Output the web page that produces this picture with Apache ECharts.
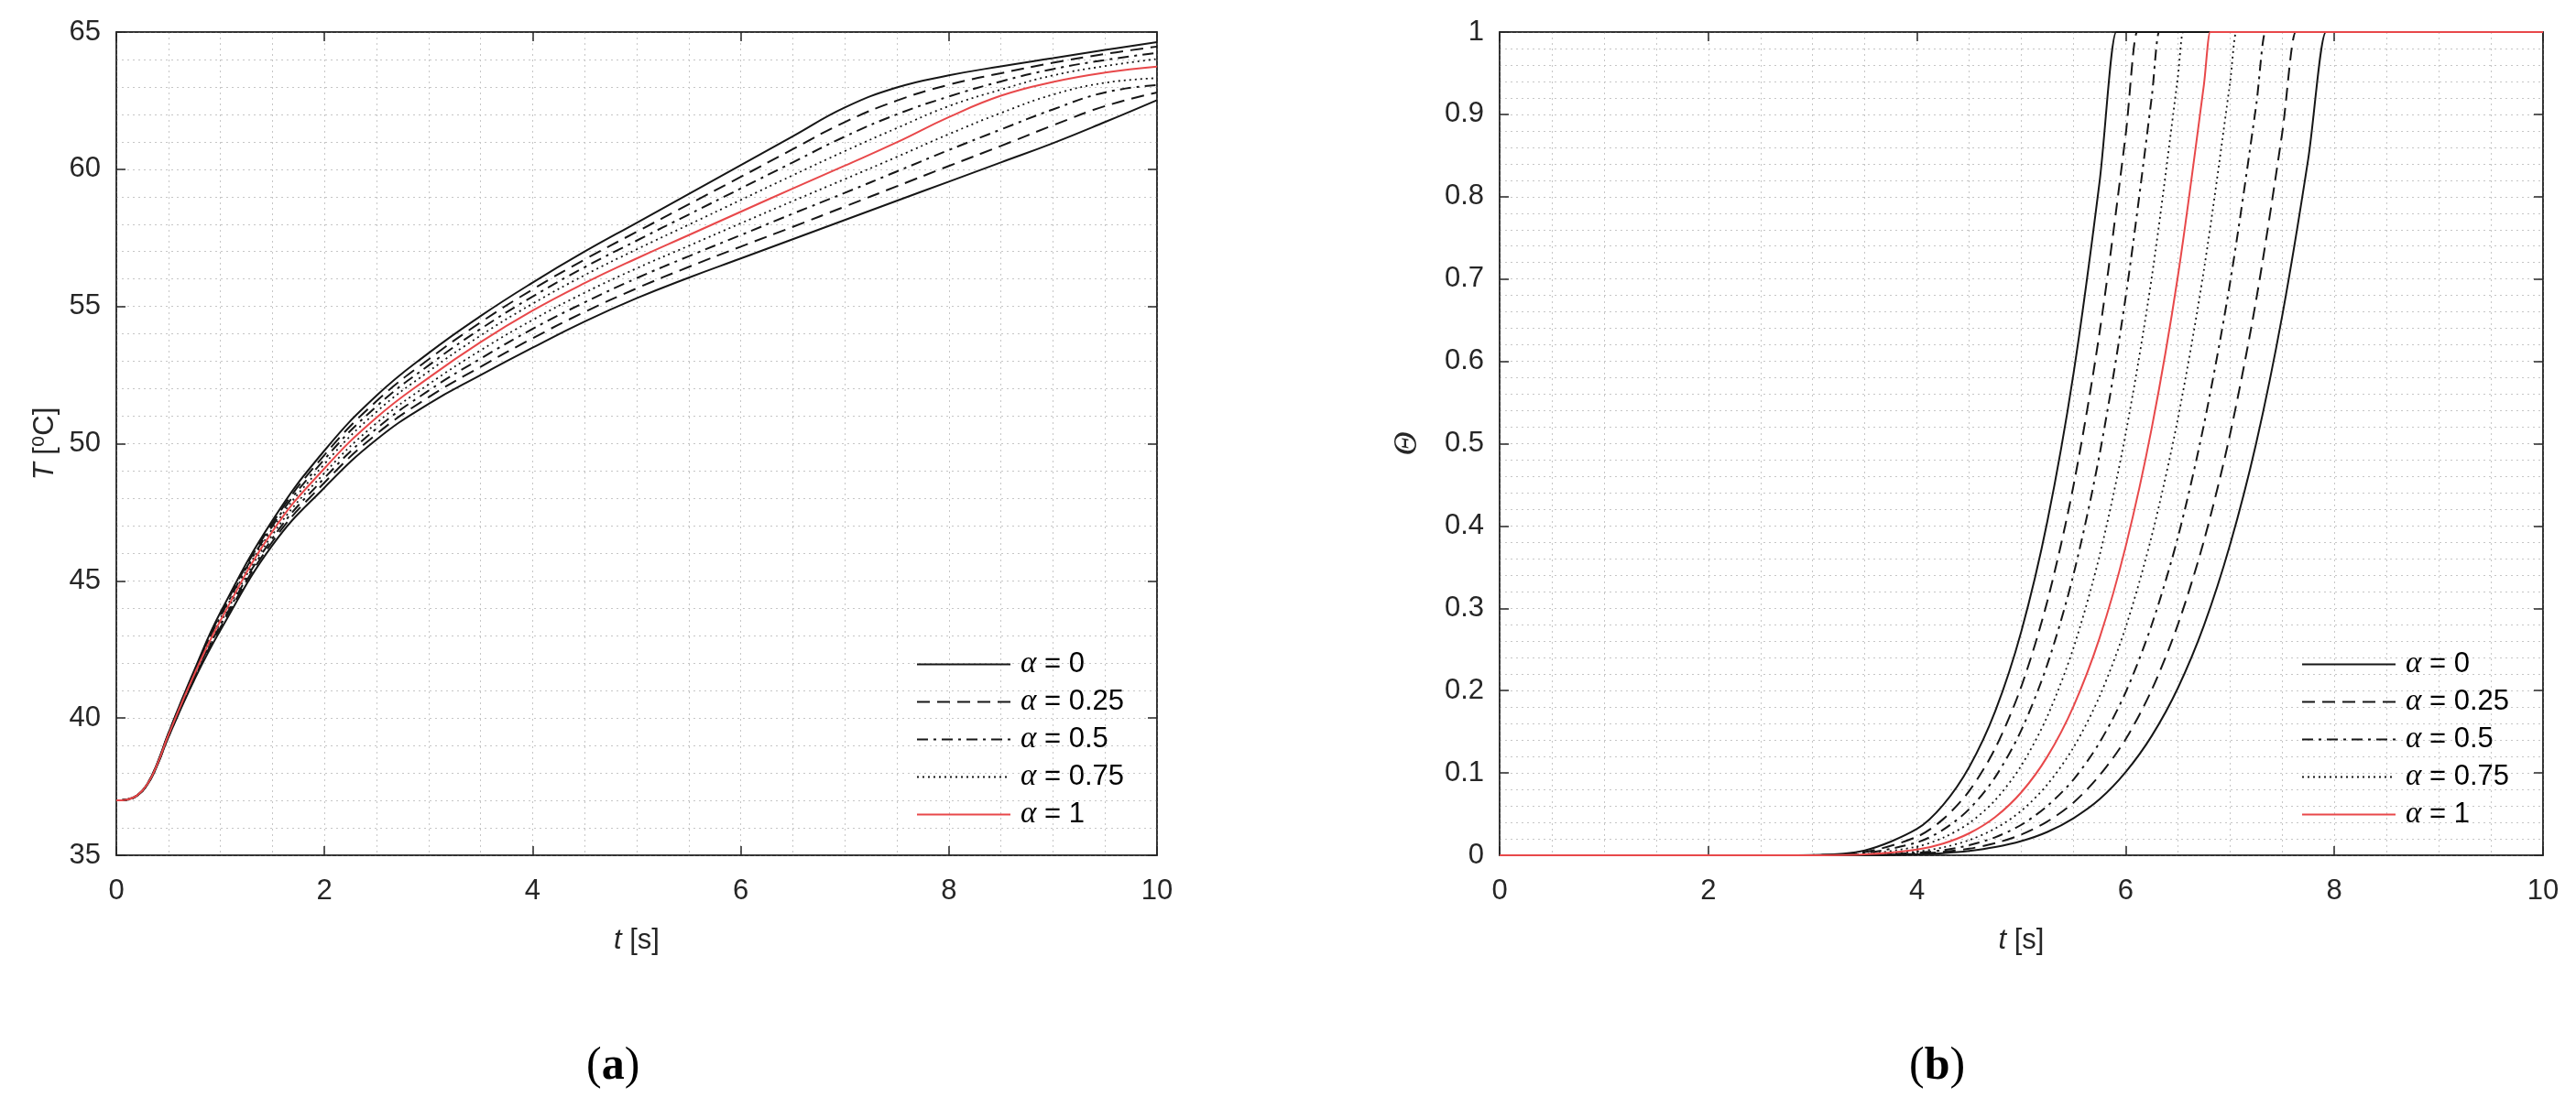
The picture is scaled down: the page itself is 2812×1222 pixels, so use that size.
<!DOCTYPE html>
<html>
<head>
<meta charset="utf-8">
<script src="https://cdn.jsdelivr.net/npm/echarts@6/dist/echarts.min.js"></script>
<style>
html,body{margin:0;padding:0;background:#fff;}
#chart{width:2812px;height:1222px;}
</style>
</head>
<body>
<div id="chart"></div>
<script>
// ---------- DATA ----------
// Panel (a): time grid and temperature curves T [degC]
const tLeft = [0, 0.1, 0.2, 0.3, 0.4, 0.5, 0.75, 1, 1.5, 2, 2.5, 3, 3.5, 4, 4.5, 5, 5.5, 6, 6.5, 7, 7.5, 8, 8.5, 9, 9.5, 10];
const T_a0_upper   = [37, 37.03, 37.18, 37.62, 38.42, 39.45, 41.75, 43.85, 47.2, 49.75, 51.75, 53.3, 54.65, 55.87, 57.0, 58.05, 59.1, 60.15, 61.2, 62.25, 62.98, 63.42, 63.75, 64.05, 64.35, 64.63];
const T_a025_upper = [37, 37.03, 37.18, 37.62, 38.41, 39.42, 41.7, 43.78, 47.1, 49.59, 51.55, 53.07, 54.42, 55.62, 56.71, 57.72, 58.72, 59.72, 60.73, 61.72, 62.5, 63.08, 63.5, 63.88, 64.2, 64.47];
const T_a05_upper  = [37, 37.03, 37.18, 37.61, 38.4, 39.41, 41.66, 43.7, 47.0, 49.43, 51.36, 52.85, 54.18, 55.36, 56.43, 57.4, 58.35, 59.3, 60.25, 61.19, 62.0, 62.65, 63.2, 63.65, 63.98, 64.24];
const T_a075_upper = [37, 37.03, 37.18, 37.61, 38.39, 39.4, 41.63, 43.63, 46.9, 49.26, 51.16, 52.63, 53.94, 55.1, 56.14, 57.08, 57.98, 58.88, 59.78, 60.66, 61.5, 62.3, 62.9, 63.42, 63.76, 64.02];
const T_a1         = [37, 37.03, 37.18, 37.6, 38.38, 39.38, 41.6, 43.55, 46.8, 49.1, 50.95, 52.4, 53.7, 54.85, 55.85, 56.75, 57.6, 58.45, 59.3, 60.13, 60.98, 61.9, 62.68, 63.18, 63.52, 63.74];
const T_a075_lower = [37, 37.03, 37.18, 37.6, 38.37, 39.36, 41.55, 43.47, 46.68, 48.93, 50.75, 52.16, 53.4, 54.51, 55.5, 56.39, 57.21, 58.03, 58.84, 59.64, 60.45, 61.28, 62.05, 62.72, 63.15, 63.32];
const T_a05_lower  = [37, 37.03, 37.18, 37.59, 38.36, 39.35, 41.5, 43.38, 46.55, 48.75, 50.55, 51.93, 53.1, 54.18, 55.15, 56.03, 56.83, 57.6, 58.38, 59.14, 59.92, 60.7, 61.45, 62.18, 62.8, 63.07];
const T_a025_lower = [37, 37.03, 37.18, 37.59, 38.35, 39.32, 41.45, 43.3, 46.43, 48.58, 50.35, 51.69, 52.8, 53.84, 54.8, 55.66, 56.44, 57.18, 57.9, 58.64, 59.38, 60.12, 60.85, 61.6, 62.3, 62.8];
const T_a0_lower   = [37, 37.03, 37.18, 37.58, 38.34, 39.3, 41.4, 43.2, 46.3, 48.4, 50.15, 51.45, 52.5, 53.5, 54.45, 55.3, 56.05, 56.75, 57.45, 58.15, 58.85, 59.55, 60.25, 60.95, 61.72, 62.52];

// Panel (b): [t, Theta] points for each curve
const Th_a0_left = [[0,0],[2.5,0],[3,0.0003],[3.5,0.0059],[4,0.032],[4.25,0.061],[4.5,0.107],[4.75,0.175],[5,0.272],[5.25,0.406],[5.5,0.585],[5.75,0.818],[5.91,1],[5.92,1],[10,1]];
const Th_a025_left = [[0,0],[2.5,0],[3,0.0002],[3.5,0.0039],[4,0.0225],[4.25,0.0438],[4.5,0.078],[4.75,0.13],[5,0.205],[5.25,0.309],[5.5,0.449],[5.75,0.635],[6,0.875],[6.11,1],[6.12,1],[10,1]];
const Th_a05_left = [[0,0],[2.5,0],[3,0.0001],[3.5,0.0026],[4,0.0156],[4.25,0.031],[4.5,0.056],[4.75,0.095],[5,0.152],[5.25,0.232],[5.5,0.341],[5.75,0.487],[6,0.678],[6.25,0.921],[6.32,1],[6.33,1],[10,1]];
const Th_a075_left = [[0,0],[2.5,0],[3,0.0001],[3.5,0.0016],[4,0.0105],[4.25,0.0213],[4.5,0.039],[4.75,0.067],[5,0.109],[5.25,0.169],[5.5,0.252],[5.75,0.364],[6,0.512],[6.25,0.702],[6.5,0.945],[6.55,1],[6.56,1],[10,1]];
const Th_a1 = [[0,0],[2.5,0],[3,0],[3.5,0.001],[4,0.0069],[4.25,0.0142],[4.5,0.0267],[4.75,0.0465],[5,0.0765],[5.25,0.12],[5.5,0.181],[5.75,0.264],[6,0.375],[6.25,0.519],[6.5,0.703],[6.75,0.936],[6.81,1],[6.82,1],[10,1]];
const Th_a075_right = [[0,0],[2.5,0],[3,0],[3.5,0.0006],[4,0.0045],[4.25,0.0096],[4.5,0.0184],[4.75,0.0325],[5,0.054],[5.25,0.086],[5.5,0.131],[5.75,0.193],[6,0.277],[6.25,0.388],[6.5,0.53],[6.75,0.711],[7,0.938],[7.06,1],[7.07,1],[10,1]];
const Th_a05_right = [[0,0],[2.5,0],[3,0],[3.5,0.0004],[4,0.0029],[4.25,0.0062],[4.5,0.0122],[4.75,0.0219],[5,0.037],[5.25,0.06],[5.5,0.092],[5.75,0.137],[6,0.198],[6.25,0.28],[6.5,0.386],[6.75,0.523],[7,0.695],[7.25,0.91],[7.34,1],[7.35,1],[10,1]];
const Th_a025_right = [[0,0],[2.5,0],[3,0],[3.5,0.0002],[4,0.0018],[4.25,0.0041],[4.5,0.008],[4.75,0.0147],[5,0.0252],[5.25,0.041],[5.5,0.064],[5.75,0.097],[6,0.141],[6.25,0.201],[6.5,0.28],[6.75,0.382],[7,0.511],[7.25,0.674],[7.5,0.877],[7.63,1],[7.64,1],[10,1]];
const Th_a0_right = [[0,0],[2.5,0],[3,0],[3.5,0.0001],[4,0.0012],[4.25,0.0026],[4.5,0.0053],[4.75,0.0099],[5,0.0172],[5.25,0.0284],[5.5,0.045],[5.75,0.068],[6,0.101],[6.25,0.145],[6.5,0.203],[6.75,0.279],[7,0.377],[7.25,0.5],[7.5,0.655],[7.75,0.846],[7.92,1],[7.93,1],[10,1]];

const legendNames = ['α = 0', 'α = 0.25', 'α = 0.5', 'α = 0.75', 'α = 1'];
const xTicksA = [0, 2, 4, 6, 8, 10];
const yTicksA = [35, 40, 45, 50, 55, 60, 65];
const yTicksB = [0, 0.1, 0.2, 0.3, 0.4, 0.5, 0.6, 0.7, 0.8, 0.9, 1];

// ---------- STYLES ----------
const BLACK = '#161616';
const RED = '#e8484a';
const styleFor = {
  'α = 0':    {color: BLACK, type: 'solid', width: 2},
  'α = 0.25': {color: BLACK, type: [14, 8], width: 2},
  'α = 0.5':  {color: BLACK, type: [12, 6, 3, 6], width: 2},
  'α = 0.75': {color: BLACK, type: [2, 4], width: 1.8},
  'α = 1':    {color: RED, type: 'solid', width: 2}
};
const AX = '#262626';
const gridDot = {color: '#c6c6c6', type: [2, 4], width: 1};
const labelFont = {fontFamily: 'Liberation Sans, Arial, sans-serif', fontSize: 31, color: AX};

function mkSeries(name, data, xi, yi, sm) {
  const s = styleFor[name];
  return {
    type: 'line', name: name, data: data, xAxisIndex: xi, yAxisIndex: yi,
    symbol: 'none', showSymbol: false, smooth: sm,
    lineStyle: {color: s.color, type: s.type, width: s.width},
    itemStyle: {color: s.color},
    z: name === 'α = 1' ? 5 : 3,
    animation: false
  };
}
const zipT = arr => tLeft.map((t, i) => [t, arr[i]]);

const leftCurves = [
  ['α = 0', T_a0_upper], ['α = 0.25', T_a025_upper], ['α = 0.5', T_a05_upper], ['α = 0.75', T_a075_upper],
  ['α = 0.75', T_a075_lower], ['α = 0.5', T_a05_lower], ['α = 0.25', T_a025_lower], ['α = 0', T_a0_lower],
  ['α = 1', T_a1]
];
const rightCurves = [
  ['α = 0', Th_a0_left], ['α = 0.25', Th_a025_left], ['α = 0.5', Th_a05_left], ['α = 0.75', Th_a075_left],
  ['α = 0.75', Th_a075_right], ['α = 0.5', Th_a05_right], ['α = 0.25', Th_a025_right], ['α = 0', Th_a0_right],
  ['α = 1', Th_a1]
];
const series = [];
leftCurves.forEach(c => series.push(mkSeries(c[0], zipT(c[1]), 0, 0, 0.45)));
rightCurves.forEach(c => series.push(mkSeries(c[0], c[1], 2, 2, 0.3)));

function xAxes(gi, nameLabel) {
  return [
    {
      gridIndex: gi, type: 'value', position: 'bottom', min: xTicksA[0], max: xTicksA[xTicksA.length - 1], interval: 2,
      axisLine: {show: true, onZero: false, lineStyle: {color: AX, width: 1.5}},
      axisTick: {show: true, inside: true, length: 10, lineStyle: {color: AX, width: 1.5}},
      axisLabel: Object.assign({margin: 24}, labelFont),
      splitLine: {show: true, lineStyle: gridDot},
      minorTick: {show: false, splitNumber: 4},
      minorSplitLine: {show: true, lineStyle: gridDot},
      name: nameLabel, nameLocation: 'middle', nameGap: 78,
      nameTextStyle: {
        rich: {
          i: {fontFamily: 'Liberation Sans, Arial', fontStyle: 'italic', fontSize: 31, color: AX},
          n: {fontFamily: 'Liberation Sans, Arial', fontSize: 31, color: AX}
        }
      }
    },
    {
      gridIndex: gi, type: 'value', position: 'top', min: xTicksA[0], max: xTicksA[xTicksA.length - 1], interval: 2,
      axisLine: {show: true, onZero: false, lineStyle: {color: AX, width: 1.5}},
      axisTick: {show: true, inside: true, length: 10, lineStyle: {color: AX, width: 1.5}},
      axisLabel: {show: false}, splitLine: {show: false}
    }
  ];
}
function yAxes(gi, mn, mx, itv, minorN, nameLabel, nameGap) {
  return [
    {
      gridIndex: gi, type: 'value', position: 'left', min: mn, max: mx, interval: itv,
      axisLine: {show: true, onZero: false, lineStyle: {color: AX, width: 1.5}},
      axisTick: {show: true, inside: true, length: 10, lineStyle: {color: AX, width: 1.5}},
      axisLabel: Object.assign({margin: 17}, labelFont),
      splitLine: {show: true, lineStyle: gridDot},
      minorTick: {show: false, splitNumber: minorN},
      minorSplitLine: {show: true, lineStyle: gridDot},
      name: nameLabel, nameLocation: 'middle', nameGap: nameGap, nameRotate: 90,
      nameTextStyle: {
        rich: {
          i: {fontFamily: 'Liberation Sans, Arial', fontStyle: 'italic', fontSize: 31, color: AX},
          n: {fontFamily: 'Liberation Sans, DejaVu Sans, Arial', fontSize: 31, color: AX},
          th: {fontFamily: 'Liberation Serif, DejaVu Serif', fontStyle: 'italic', fontSize: 36, color: AX}
        }
      }
    },
    {
      gridIndex: gi, type: 'value', position: 'right', min: mn, max: mx, interval: itv,
      axisLine: {show: true, onZero: false, lineStyle: {color: AX, width: 1.5}},
      axisTick: {show: true, inside: true, length: 10, lineStyle: {color: AX, width: 1.5}},
      axisLabel: {show: false}, splitLine: {show: false}
    }
  ];
}

function legendAt(left) {
  return {
    show: true, orient: 'vertical', left: left, top: 704,
    data: legendNames, itemWidth: 102, itemHeight: 20, itemGap: 8,
    backgroundColor: 'transparent', selectedMode: false,
    itemStyle: {opacity: 0, color: 'transparent', borderColor: 'transparent', borderWidth: 0},
    formatter: function (name) {
      return '{g|α}{t| = ' + name.split('= ')[1] + '}';
    },
    textStyle: {
      rich: {
        g: {fontFamily: 'Liberation Serif, DejaVu Serif', fontStyle: 'italic', fontSize: 33, color: '#000', lineHeight: 32, padding: [0, 0, 0, 6]},
        t: {fontFamily: 'Liberation Sans, Arial', fontSize: 31, color: '#000', lineHeight: 32}
      }
    }
  };
}

const option = {
  animation: false,
  backgroundColor: '#ffffff',
  grid: [
    {left: 127, top: 35, width: 1136, height: 899, show: true, borderColor: AX, borderWidth: 1.5, backgroundColor: '#fff'},
    {left: 1637, top: 35, width: 1139, height: 899, show: true, borderColor: AX, borderWidth: 1.5, backgroundColor: '#fff'}
  ],
  xAxis: [].concat(xAxes(0, '{i|t}{n| [s]}'), xAxes(1, '{i|t}{n| [s]}')),
  yAxis: [].concat(
    yAxes(0, yTicksA[0], yTicksA[yTicksA.length - 1], 5, 5, '{i|T}{n| [⁰C]}', 62),
    yAxes(1, yTicksB[0], yTicksB[yTicksB.length - 1], 0.1, 5, '{th|Θ}', 82)
  ),
  legend: [legendAt(995), legendAt(2507)],
  series: series,
  graphic: [
    {type: 'text', left: 640, top: 1140, style: {
      text: '{p|(}{b|a}{p|)}',
      rich: {
        p: {fontFamily: 'Liberation Serif, DejaVu Serif', fontSize: 50, fill: '#000'},
        b: {fontFamily: 'Liberation Serif, DejaVu Serif', fontSize: 50, fontWeight: 'bold', fill: '#000'}
      }
    }},
    {type: 'text', left: 2084, top: 1140, style: {
      text: '{p|(}{b|b}{p|)}',
      rich: {
        p: {fontFamily: 'Liberation Serif, DejaVu Serif', fontSize: 50, fill: '#000'},
        b: {fontFamily: 'Liberation Serif, DejaVu Serif', fontSize: 50, fontWeight: 'bold', fill: '#000'}
      }
    }}
  ]
};

const chart = echarts.init(document.getElementById('chart'), null, {renderer: 'canvas'});
chart.setOption(option);
</script>
</body>
</html>
